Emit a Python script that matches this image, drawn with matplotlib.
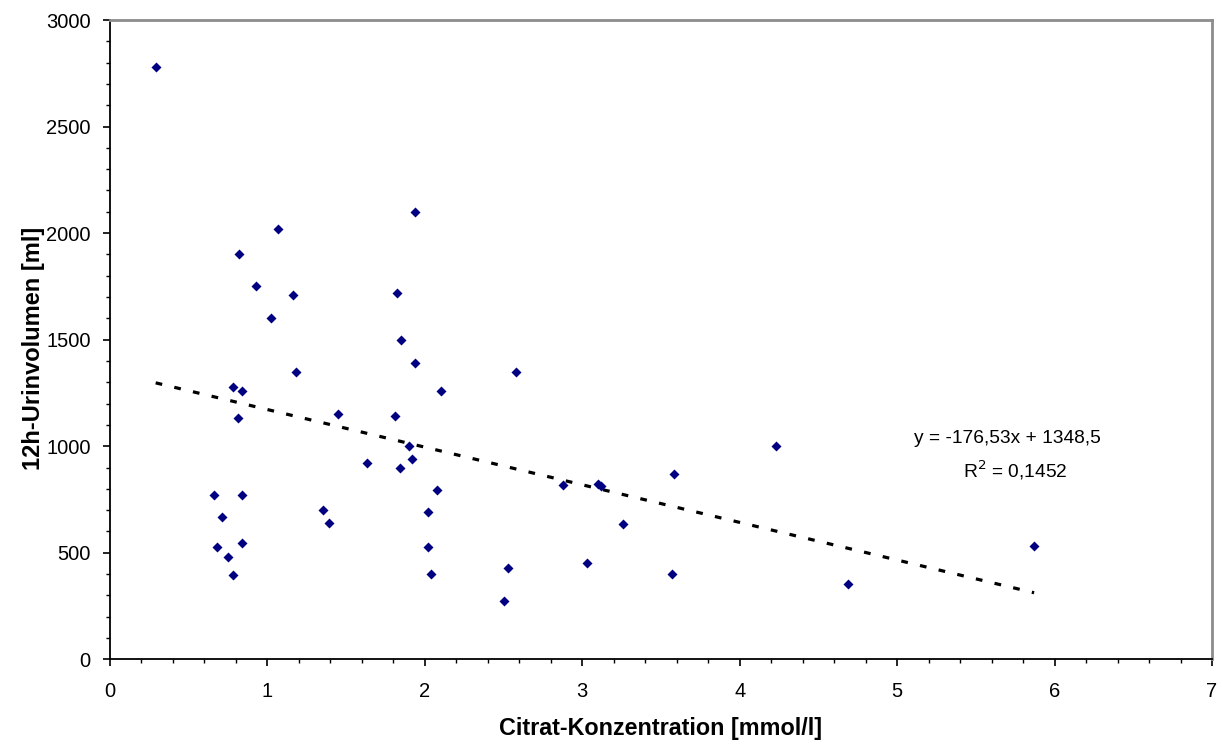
import matplotlib
matplotlib.use("Agg")
import matplotlib.pyplot as plt
import numpy as np
from matplotlib.ticker import MultipleLocator

citrat = [0.29, 1.07, 1.94,
          0.82, 0.93, 1.16, 1.02, 1.82, 1.85, 1.94, 2.10, 1.18,
          0.78, 0.84, 0.81, 1.45, 1.81, 1.90, 1.92, 1.63, 1.84,
          2.08, 2.02, 2.02, 2.04, 0.66, 0.84, 0.71, 0.68, 0.84,
          0.75, 0.78, 1.35, 1.39,
          2.58, 2.53, 2.50, 2.88, 3.10, 3.12, 3.26, 3.03, 3.58, 3.57,
          4.23, 4.69, 5.87]
urin = [2780, 2020, 2100,
        1900, 1750, 1710, 1600, 1720, 1500, 1390, 1260, 1350,
        1280, 1260, 1130, 1150, 1140, 1000, 940, 920, 900,
        795, 690, 525, 400, 770, 770, 670, 525, 545,
        480, 395, 700, 640,
        1350, 430, 275, 820, 823, 813, 635, 453, 870, 398,
        1000, 352, 530]

slope = -176.53
intercept = 1348.5

plt.rcParams['font.family'] = ['Liberation Sans', 'DejaVu Sans']

fig = plt.figure(figsize=(12.23, 7.44), dpi=100)
ax = fig.add_axes([110/1223, 1-659.3/744, (1212-110)/1223, (659.3-20)/744])

ax.scatter(citrat, urin, marker='D', s=26, color='#000080', zorder=3, linewidths=0)

xs = np.array([min(citrat), max(citrat)])
ax.plot(xs, slope*xs + intercept, color='black', linestyle=(0, (2.1, 3.9)), linewidth=2.3, zorder=2)

ax.text(5.70, 1038, "y = -176,53x + 1348,5", fontsize=13.8, ha='center', va='center')
ax.text(5.75, 888, r"R$^2$ = 0,1452", fontsize=13.8, ha='center', va='center')

ax.set_xlim(0, 7)
ax.set_ylim(0, 3000)
ax.xaxis.set_major_locator(MultipleLocator(1))
ax.xaxis.set_minor_locator(MultipleLocator(0.2))
ax.yaxis.set_major_locator(MultipleLocator(500))
ax.yaxis.set_minor_locator(MultipleLocator(100))
ax.tick_params(which='major', direction='out', length=5, width=1.2, labelsize=14.5, colors='black')
ax.tick_params(which='minor', direction='out', length=3, width=1)
ax.tick_params(axis='x', pad=11)
ax.tick_params(axis='y', pad=9)

for s in ['left', 'bottom']:
    ax.spines[s].set_color('black')
    ax.spines[s].set_linewidth(1.3)
for s in ['top', 'right']:
    ax.spines[s].set_color('#8c8c8c')
    ax.spines[s].set_linewidth(2)

ax.set_xlabel("Citrat-Konzentration [mmol/l]", fontsize=16.8, fontweight='bold', labelpad=12)
ax.set_ylabel("12h-Urinvolumen [ml]", fontsize=17, fontweight='bold', labelpad=1)
ax.yaxis.label.set_y(0.487)

fig.savefig("out.png", dpi=100)
